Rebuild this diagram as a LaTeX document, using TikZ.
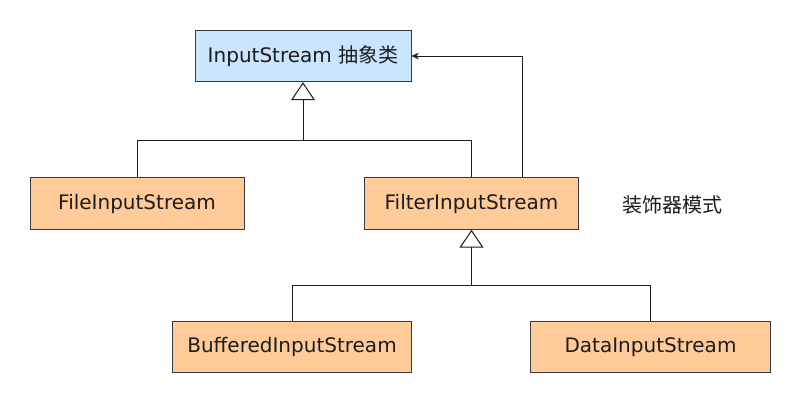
\documentclass[tikz,border=0pt]{standalone}
\usepackage{fontspec}
\setmainfont{DejaVu Sans}
\newfontfamily\cjk{Noto Sans CJK SC}
\usetikzlibrary{arrows.meta,calc}
\definecolor{dsInk}{HTML}{1C1C1C}
\definecolor{dsEdge}{HTML}{36393D}
\definecolor{dsBlue}{HTML}{CCE5FF}
\definecolor{dsOrange}{HTML}{FFCC99}
\tikzset{
  ds box/.style={
    draw=dsEdge,
    line width=.75pt,
    minimum height=38.6pt,
    inner sep=0pt,
    font=\fontsize{15}{18}\selectfont,
    text=dsInk
  },
  ds base/.style={ds box, fill=dsBlue, minimum width=162pt},
  ds sub/.style={ds box, fill=dsOrange, minimum width=160.5pt},
  ds wide/.style={ds box, fill=dsOrange, minimum width=179.5pt},
  ds link/.style={draw=dsInk, line width=.75pt},
  ds inherit/.style={
    ds link,
    -{Triangle[open, fill=white, length=13.5pt, width=18pt]}
  },
  ds assoc/.style={
    ds link,
    -{Stealth[length=5.5pt, width=5pt]}
  },
  ds label/.style={font=\cjk\fontsize{15}{18}\selectfont, text=dsInk}
}
\begin{document}
\begin{tikzpicture}[x=.75pt,y=-.75pt]
  \useasboundingbox[fill=white] (0,0) rectangle (801,404);

  % classes
  \node[ds base] (inputstream) at (303,56) {InputStream {\cjk 抽象类}};
  \node[ds sub] (file) at (137,203.5) {FileInputStream};
  \node[ds sub] (filter) at (471.5,203.5) {FilterInputStream};
  \node[ds wide] (buffered) at (292,347) {BufferedInputStream};
  \node[ds wide] (data) at (650.5,347) {DataInputStream};
  \node[ds label] (pattern) at (672,205) {装饰器模式};

  % inheritance
  \coordinate (hubtop) at (303,140);
  \coordinate (hubmid) at (471.5,285);
  \draw[ds inherit] (file.north) |- (hubtop) -- (inputstream.south);
  \draw[ds link] (filter.north) |- (hubtop);
  \draw[ds inherit] (buffered.north) |- (hubmid) -- (filter.south);
  \draw[ds link] (data.north) |- (hubmid);

  % decorator wraps the base stream
  \draw[ds assoc] ([xshift=38.6pt]filter.north) |- (inputstream.east);
\end{tikzpicture}
\end{document}
